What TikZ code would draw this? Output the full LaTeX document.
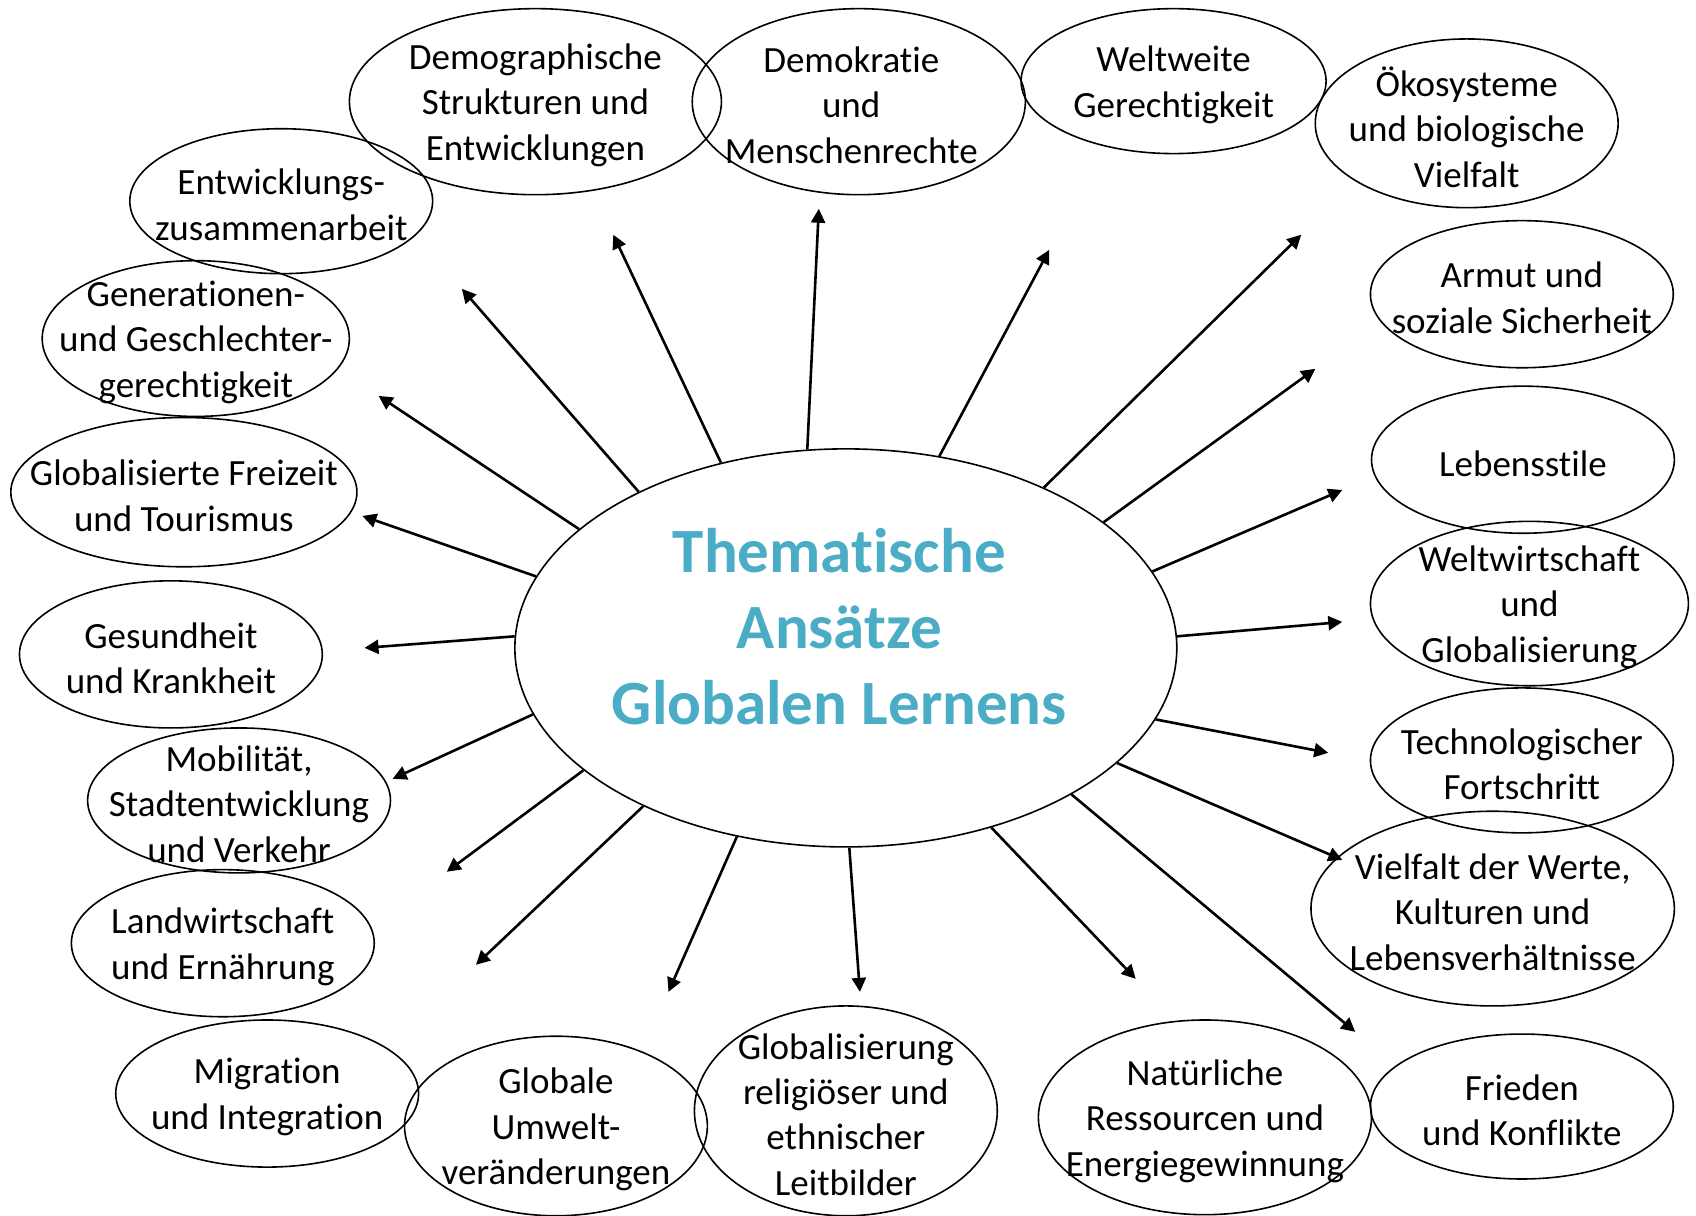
\documentclass[tikz,border=0pt]{standalone}
\usepackage{fontspec}
\setmainfont{Carlito}[Ligatures=NoCommon]
\usetikzlibrary{shapes.geometric,arrows.meta}
\definecolor{titelblau}{HTML}{4BACC6}
\newcommand{\px}{0.5408pt}

\begin{document}
\begin{tikzpicture}[
    x=\px, y=-\px,
    every node/.style={inner sep=0},
    thema/.style 2 args={ellipse, draw, line width=0.8pt,
        minimum width=2*#1*\px, minimum height=2*#2*\px},
    every label/.style={align=center, inner sep=0, yshift=-1.8pt,
        font=\fontsize{18.5pt}{22.7pt}\selectfont},
    pfeil/.style={line width=1.3pt, -{Triangle[length=7pt,width=7pt]}}
]
\clip (0,0) rectangle (1568,1124);

% Mitte
\node[thema={306}{184}] (mitte) at (782,599) {};
\node[align=center, text=titelblau,
      font=\bfseries\fontsize{31.5pt}{38pt}\selectfont] (titel) at (776,579)
      {Thematische\\Ansätze\\Globalen Lernens};

% Themen
\node[thema={172}{86}, label={center:Demographische\\Strukturen und\\Entwicklungen}] (demographie) at (495,94) {};
\node[thema={154}{86}, label={[xshift=-3.8pt]center:Demokratie\\und\\Menschenrechte}] (demokratie) at (794,94) {};
\node[thema={141}{67}, label={center:Weltweite\\Gerechtigkeit}] (gerechtigkeit) at (1085,75) {};
\node[thema={140}{78}, label={center:Ökosysteme\\und biologische\\Vielfalt}] (oekosysteme) at (1356,114) {};
\node[thema={140}{68}, label={center:Armut und\\soziale Sicherheit}] (armut) at (1407,272) {};
\node[thema={140}{68}, label={center:Lebensstile}] (lebensstile) at (1408,425) {};
\node[thema={147}{76}, label={center:Weltwirtschaft\\und\\Globalisierung}] (weltwirtschaft) at (1414,558) {};
\node[thema={140}{67}, label={center:Technologischer\\Fortschritt}] (technologie) at (1407,703) {};
\node[thema={168}{90}, label={center:Vielfalt der Werte,\\Kulturen und\\Lebensverhältnisse}] (vielfalt) at (1380,840) {};
\node[thema={140}{67}, label={center:Frieden\\und Konflikte}] (frieden) at (1407,1023) {};
\node[thema={154}{90}, label={center:Natürliche\\Ressourcen und\\Energiegewinnung}] (ressourcen) at (1114,1033) {};
\node[thema={140}{97}, label={center:Globalisierung\\religiöser und\\ethnischer\\Leitbilder}] (leitbilder) at (782,1027) {};
\node[thema={140}{83}, label={center:Globale\\Umwelt-\\veränderungen}] (umwelt) at (514,1041) {};
\node[thema={140}{68}, label={center:Migration\\und Integration}] (migration) at (247,1011) {};
\node[thema={140}{68}, label={center:Landwirtschaft\\und Ernährung}] (landwirtschaft) at (206,872) {};
\node[thema={140}{67}, label={center:Mobilität,\\Stadtentwicklung\\und Verkehr}] (mobilitaet) at (221,740) {};
\node[thema={140}{68}, label={center:Gesundheit\\und Krankheit}] (gesundheit) at (158,605) {};
\node[thema={160}{69}, label={center:Globalisierte Freizeit\\und Tourismus}] (freizeit) at (170,455) {};
\node[thema={142}{72}, label={center:Generationen-\\und Geschlechter-\\gerechtigkeit}] (generationen) at (181,313) {};
\node[thema={140}{67}, label={center:Entwicklungs-\\zusammenarbeit}] (entwicklung) at (260,186) {};

% Pfeilspitzen
\coordinate (s1) at (567,217);
\coordinate (s2) at (757,193);
\coordinate (s3) at (970,231);
\coordinate (s4) at (1203,217);
\coordinate (s5) at (1216,341);
\coordinate (s6) at (1241,453);
\coordinate (s7) at (1241,575);
\coordinate (s8) at (1228,696);
\coordinate (s9) at (1241,795);
\coordinate (s10) at (1253,954);
\coordinate (s11) at (1050,905);
\coordinate (s12) at (795,917);
\coordinate (s13) at (618,917);
\coordinate (s14) at (440,892);
\coordinate (s15) at (413,806);
\coordinate (s16) at (363,720);
\coordinate (s17) at (337,599);
\coordinate (s18) at (335,477);
\coordinate (s19) at (350,366);
\coordinate (s20) at (427,267);

\foreach \w/\z in {124.8/s1, 101.0/s2, 64.9/s3, 39.5/s4, 26.8/s5,
                   14.8/s6, 2.2/s7, 347.3/s8, 337.3/s9, 327.2/s10,
                   309.7/s11, 271.9/s12, 240.6/s13, 218.6/s14, 205.5/s15,
                   192.3/s16, 178.7/s17, 167.3/s18, 156.3/s19, 143.6/s20}
    \draw[pfeil] (mitte.\w) -- (\z);
\end{tikzpicture}
\end{document}
